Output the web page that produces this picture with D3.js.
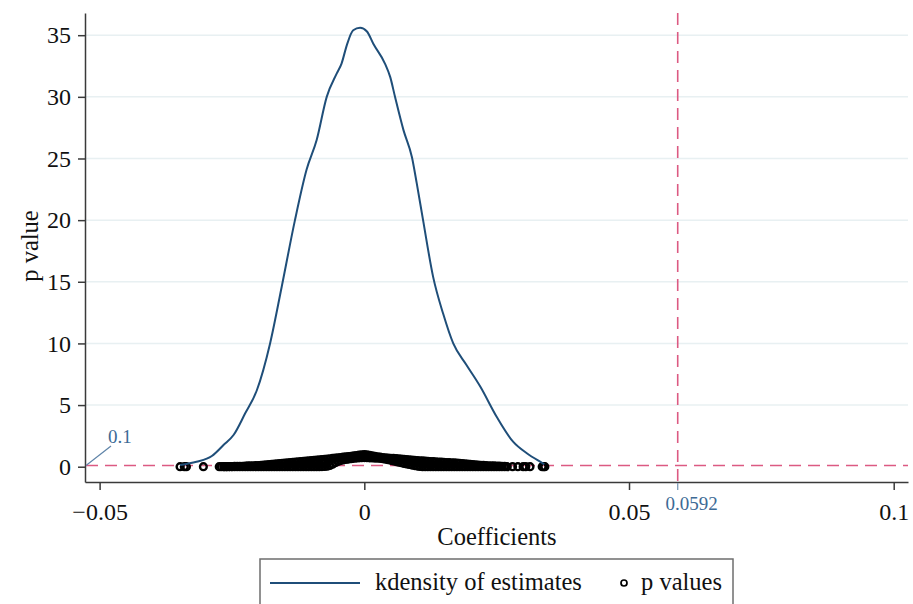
<!DOCTYPE html>
<html>
<head>
<meta charset="utf-8">
<script src="https://cdn.jsdelivr.net/npm/d3@7"></script>
<style>
  body { margin: 0; background: #fff; }
  svg text { font-family: "Times New Roman", "Liberation Serif", Times, "DejaVu Serif", serif; }
</style>
</head>
<body>
<div id="chart"></div>
<script>
// kernel density of the estimates
var kdCoef = [-0.0348, -0.0317, -0.0288, -0.0266, -0.0247, -0.0225, -0.0203, -0.0178, -0.0156, -0.0131,
  -0.0109, -0.0090, -0.0071, -0.0052, -0.0043, -0.0033, -0.0021, -0.0008, 0.0005, 0.0017,
  0.0039, 0.0049, 0.0058, 0.0074, 0.0090, 0.0099, 0.0111, 0.0130, 0.0149, 0.0168,
  0.0193, 0.0219, 0.0250, 0.0281, 0.0307, 0.0335, 0.0340];
var kdDens = [0.14, 0.40, 0.87, 1.76, 2.57, 4.33, 6.2, 10.0, 14.6, 20.0,
  24.1, 26.5, 30.0, 31.9, 32.7, 34.2, 35.4, 35.6, 35.3, 34.3,
  32.7, 31.6, 30.0, 27.3, 25.1, 23.0, 20.0, 15.4, 12.4, 10.0,
  8.25, 6.5, 4.05, 2.03, 1.09, 0.33, 0.2];

// p values: dense band, an upper and a lower value per coefficient
var pCoef = [-0.0265, -0.0260, -0.0255, -0.0250, -0.0245, -0.0240, -0.0235, -0.0230, -0.0225, -0.0220,
  -0.0215, -0.0210, -0.0205, -0.0200, -0.0195, -0.0190, -0.0185, -0.0180, -0.0175, -0.0170,
  -0.0165, -0.0160, -0.0155, -0.0150, -0.0145, -0.0140, -0.0135, -0.0130, -0.0125, -0.0120,
  -0.0115, -0.0110, -0.0105, -0.0100, -0.0095, -0.0090, -0.0085, -0.0080, -0.0075, -0.0070,
  -0.0065, -0.0060, -0.0055, -0.0050, -0.0045, -0.0040, -0.0035, -0.0030, -0.0025, -0.0020,
  -0.0015, -0.0010, -0.0005, 0.0000, 0.0005, 0.0010, 0.0015, 0.0020, 0.0025, 0.0030,
  0.0035, 0.0040, 0.0045, 0.0050, 0.0055, 0.0060, 0.0065, 0.0070, 0.0075, 0.0080,
  0.0085, 0.0090, 0.0095, 0.0100, 0.0105, 0.0110, 0.0115, 0.0120, 0.0125, 0.0130,
  0.0135, 0.0140, 0.0145, 0.0150, 0.0155, 0.0160, 0.0165, 0.0170, 0.0175, 0.0180,
  0.0185, 0.0190, 0.0195, 0.0200, 0.0205, 0.0210, 0.0215, 0.0220, 0.0225, 0.0230,
  0.0235, 0.0240, 0.0245, 0.0250, 0.0255, 0.0260, 0.0265];
var pHigh = [0.00, 0.00, 0.01, 0.01, 0.02, 0.02, 0.03, 0.03, 0.04, 0.06,
  0.07, 0.08, 0.09, 0.10, 0.12, 0.14, 0.16, 0.18, 0.20, 0.22,
  0.24, 0.26, 0.27, 0.29, 0.31, 0.33, 0.35, 0.37, 0.39, 0.41,
  0.43, 0.45, 0.47, 0.49, 0.51, 0.53, 0.55, 0.57, 0.59, 0.62,
  0.64, 0.67, 0.69, 0.72, 0.74, 0.77, 0.79, 0.82, 0.85, 0.88,
  0.91, 0.94, 0.97, 0.99, 0.96, 0.92, 0.88, 0.84, 0.80, 0.77,
  0.74, 0.72, 0.70, 0.68, 0.67, 0.65, 0.63, 0.61, 0.59, 0.57,
  0.55, 0.53, 0.51, 0.50, 0.48, 0.47, 0.45, 0.44, 0.42, 0.41,
  0.39, 0.38, 0.37, 0.35, 0.34, 0.33, 0.32, 0.31, 0.30, 0.28,
  0.26, 0.24, 0.22, 0.20, 0.18, 0.16, 0.14, 0.12, 0.11, 0.10,
  0.08, 0.07, 0.06, 0.05, 0.04, 0.03, 0.02];
var pLow = [0, 0, 0, 0, 0, 0, 0, 0, 0, 0,
  0, 0, 0, 0, 0, 0, 0, 0, 0, 0,
  0, 0, 0, 0, 0, 0, 0, 0, 0, 0,
  0, 0, 0, 0, 0, 0, 0, 0.01, 0.02, 0.04,
  0.10, 0.20, 0.32, 0.42, 0.50, 0.55, 0.59, 0.62, 0.65, 0.68,
  0.70, 0.72, 0.73, 0.74, 0.73, 0.72, 0.71, 0.70, 0.69, 0.68,
  0.65, 0.61, 0.57, 0.52, 0.47, 0.42, 0.37, 0.32, 0.27, 0.22,
  0.18, 0.13, 0.09, 0.05, 0.02, 0, 0, 0, 0, 0,
  0, 0, 0, 0, 0, 0, 0, 0, 0, 0,
  0, 0, 0, 0, 0, 0, 0, 0, 0, 0,
  0, 0, 0, 0, 0, 0, 0];
// stray estimates at both tails
var pTailCoef = [-0.0348, -0.0340, -0.0336, -0.0304, -0.0274, -0.0270, 0.0270, 0.0280, 0.0290,
  0.0300, 0.0305, 0.0313, 0.0336, 0.0339, 0.0341];
var pTailVal = [0, 0, 0, 0, 0, 0, 0, 0, 0, 0, 0, 0, 0, 0, 0];

var xTicks = [-0.05, 0, 0.05, 0.1];
var xTickLabels = ['\u22120.05', '0', '0.05', '0.1'];
var yTicks = [0, 5, 10, 15, 20, 25, 30, 35];
var critCoef = 0.0592;
var critP = 0.1;

var serif = '"Times New Roman", "Liberation Serif", Times, "DejaVu Serif", serif';
var width = 913, height = 604;
var svg = d3.select('#chart').append('svg')
  .attr('width', width)
  .attr('height', height)
  .style('font-family', serif);

var x = d3.scaleLinear().domain([-0.05276, 0.1027]).range([85, 908]);
var y = d3.scaleLinear().domain([-1.24, 36.8]).range([482, 13]);

var navy = '#1f4e79';
var pink = '#dc5a82';
var labelBlue = '#3d6a95';

// gridlines
svg.append('g').selectAll('line').data(yTicks.slice(1)).enter().append('line')
  .attr('x1', 86).attr('x2', 908)
  .attr('y1', function (d) { return y(d); })
  .attr('y2', function (d) { return y(d); })
  .attr('stroke', '#e8f0f2')
  .attr('stroke-width', 1.5);

// axes
var yAxis = svg.append('g')
  .attr('transform', 'translate(85,0)')
  .call(d3.axisLeft(y).tickValues(yTicks).tickSize(7).tickSizeOuter(0).tickPadding(7));
var xAxis = svg.append('g')
  .attr('transform', 'translate(0,482)')
  .call(d3.axisBottom(x).tickValues(xTicks).tickSize(8).tickSizeOuter(0).tickPadding(13)
    .tickFormat(function (d, i) { return xTickLabels[i]; }));
[yAxis, xAxis].forEach(function (g) {
  g.attr('font-family', serif);
  g.select('.domain').attr('stroke', '#3a3a3a').attr('stroke-width', 1.5);
  g.selectAll('.tick line').attr('stroke', '#3a3a3a').attr('stroke-width', 1.5);
  g.selectAll('.tick text')
    .attr('fill', '#111')
    .style('font-family', serif)
    .style('font-size', '24px');
});

// reference lines
svg.append('line')
  .attr('x1', 86).attr('x2', 908)
  .attr('y1', y(critP)).attr('y2', y(critP))
  .attr('stroke', pink).attr('stroke-width', 1.6)
  .attr('stroke-dasharray', '12,7');
svg.append('line')
  .attr('x1', x(critCoef)).attr('x2', x(critCoef))
  .attr('y1', 13).attr('y2', 481)
  .attr('stroke', pink).attr('stroke-width', 1.6)
  .attr('stroke-dasharray', '12,7');
svg.append('line')
  .attr('x1', x(critCoef)).attr('x2', x(critCoef))
  .attr('y1', 483).attr('y2', 490)
  .attr('stroke', '#7f9cb8').attr('stroke-width', 1.3);
svg.append('text')
  .attr('x', x(critCoef) + 14).attr('y', 510)
  .attr('text-anchor', 'middle')
  .attr('fill', labelBlue)
  .style('font-size', '19px')
  .text('0.0592');
svg.append('line')
  .attr('x1', 86).attr('y1', y(critP))
  .attr('x2', 111).attr('y2', 446)
  .attr('stroke', '#5f84a8').attr('stroke-width', 1.2);
svg.append('text')
  .attr('x', 108).attr('y', 443)
  .attr('fill', labelBlue)
  .style('font-size', '19px')
  .text('0.1');

// p value markers
var pts = [];
pCoef.forEach(function (c, i) {
  pts.push([c, pLow[i]]);
  pts.push([c, pHigh[i]]);
});
pTailCoef.forEach(function (c, i) { pts.push([c, pTailVal[i]]); });

svg.append('g').selectAll('circle').data(pts).enter().append('circle')
  .attr('cx', function (d) { return x(d[0]); })
  .attr('cy', function (d) { return y(d[1]); })
  .attr('r', 3.4)
  .attr('fill', 'none')
  .attr('stroke', '#000')
  .attr('stroke-width', 2.4);

// density curve
var line = d3.line()
  .x(function (d) { return x(d[0]); })
  .y(function (d) { return y(d[1]); })
  .curve(d3.curveMonotoneX);
svg.append('path')
  .datum(kdCoef.map(function (c, i) { return [c, kdDens[i]]; }))
  .attr('d', line)
  .attr('fill', 'none')
  .attr('stroke', navy)
  .attr('stroke-width', 2);

// axis titles
svg.append('text')
  .attr('x', 497).attr('y', 545)
  .attr('text-anchor', 'middle')
  .attr('fill', '#111')
  .style('font-size', '24.5px')
  .text('Coefficients');
svg.append('text')
  .attr('transform', 'translate(38,246) rotate(-90)')
  .attr('text-anchor', 'middle')
  .attr('fill', '#111')
  .style('font-size', '24.5px')
  .text('p value');

// legend
var legend = svg.append('g');
legend.append('rect')
  .attr('x', 260).attr('y', 559)
  .attr('width', 473).attr('height', 60)
  .attr('fill', '#fff')
  .attr('stroke', '#6e6e6e')
  .attr('stroke-width', 1.5);
legend.append('line')
  .attr('x1', 270).attr('x2', 360)
  .attr('y1', 583).attr('y2', 583)
  .attr('stroke', navy).attr('stroke-width', 2);
legend.append('text')
  .attr('x', 375).attr('y', 590)
  .attr('fill', '#111')
  .style('font-size', '24.5px')
  .text('kdensity of estimates');
legend.append('circle')
  .attr('cx', 624).attr('cy', 583).attr('r', 3)
  .attr('fill', 'none').attr('stroke', '#000').attr('stroke-width', 1.7);
legend.append('text')
  .attr('x', 722).attr('y', 590)
  .attr('text-anchor', 'end')
  .attr('fill', '#111')
  .style('font-size', '24.5px')
  .text('p values');
</script>
</body>
</html>
